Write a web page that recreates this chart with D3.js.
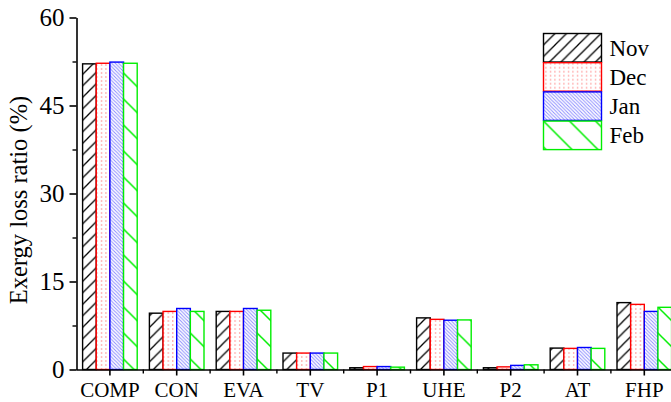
<!DOCTYPE html>
<html>
<head>
<meta charset="utf-8">
<script src="https://cdn.jsdelivr.net/npm/d3@7"></script>
<style>
body { margin: 0; background: #fff; }
svg { display: block; font-family: "Liberation Serif", "Times New Roman", serif; }
</style>
</head>
<body>
<svg width="671" height="402"></svg>
<script>
'use strict';

var categories = ['COMP', 'CON', 'EVA', 'TV', 'P1', 'UHE', 'P2', 'AT', 'FHP'];
var months = ['Nov', 'Dec', 'Jan', 'Feb'];
var nov = [52.1, 9.6, 9.9, 2.8, 0.3, 8.8, 0.3, 3.65, 11.4];
var dec = [52.2, 9.9, 9.9, 2.8, 0.5, 8.55, 0.45, 3.6, 11.1];
var jan = [52.4, 10.4, 10.4, 2.8, 0.5, 8.4, 0.7, 3.75, 9.9];
var feb = [52.2, 9.9, 10.1, 2.8, 0.4, 8.45, 0.8, 3.6, 10.6];
var yTicks = [0, 15, 30, 45, 60];
var yMinor = [7.5, 22.5, 37.5, 52.5];

var series = [nov, dec, jan, feb];
var colors = ['#000', '#ff0000', '#0000ff', '#00ee00'];

var svg = d3.select('svg');
var width = +svg.attr('width');

var x = d3.scaleBand().domain(categories).range([76.5, 76.5 + 9 * 66.8]);
var x1 = d3.scaleBand().domain(months).range([6.1, 60.7]);
var y = d3.scaleLinear().domain([0, 60]).range([369.5, 17.5]);

// hatch patterns
var defs = svg.append('defs');

var p = defs.append('pattern').attr('id', 'pNov').attr('patternUnits', 'userSpaceOnUse')
	.attr('width', 11.5).attr('height', 11.5);
p.append('rect').attr('width', 11.5).attr('height', 11.5).attr('fill', '#fff');
p.append('path').attr('d', 'M-1,12.5 L12.5,-1 M-3,3 L3,-3 M8.5,14.5 L14.5,8.5')
	.attr('stroke', '#000').attr('stroke-width', 1.3);

p = defs.append('pattern').attr('id', 'pDec').attr('patternUnits', 'userSpaceOnUse')
	.attr('width', 4.5).attr('height', 4);
p.append('rect').attr('width', 4.5).attr('height', 4).attr('fill', '#fff');
p.append('rect').attr('x', 2).attr('y', 0).attr('width', 1).attr('height', 2).attr('fill', '#ff9a9a');

p = defs.append('pattern').attr('id', 'pJan').attr('patternUnits', 'userSpaceOnUse')
	.attr('width', 3.5).attr('height', 3.5);
p.append('rect').attr('width', 3.5).attr('height', 3.5).attr('fill', '#fff');
p.append('path').attr('d', 'M-1,-1 L4.5,4.5 M-1,2.5 L1,4.5 M2.5,-1 L4.5,1')
	.attr('stroke', '#8a8aff').attr('stroke-width', 0.9);

p = defs.append('pattern').attr('id', 'pFeb').attr('patternUnits', 'userSpaceOnUse')
	.attr('width', 26).attr('height', 26);
p.append('rect').attr('width', 26).attr('height', 26).attr('fill', '#fff');
p.append('path').attr('d', 'M-1,-1 L27,27 M-3,23 L3,29 M23,-3 L29,3')
	.attr('stroke', '#00ee00').attr('stroke-width', 1.5);

var fills = ['url(#pNov)', 'url(#pDec)', 'url(#pJan)', 'url(#pFeb)'];

// bars
var groups = svg.selectAll('g.grp')
	.data(categories).enter()
	.append('g').attr('class', 'grp')
	.attr('transform', function(d){ return 'translate(' + x(d) + ',0)'; });

groups.selectAll('rect')
	.data(function(d, i){
		return months.map(function(m, j){ return {m: m, j: j, v: series[j][i]}; });
	})
	.enter().append('rect')
	.attr('x', function(d){ return x1(d.m); })
	.attr('width', x1.bandwidth())
	.attr('y', function(d){ return y(d.v); })
	.attr('height', function(d){ return y(0) - y(d.v); })
	.attr('fill', function(d){ return fills[d.j]; })
	.attr('stroke', function(d){ return colors[d.j]; })
	.attr('stroke-width', 1.4);

// axes
var yAxis = svg.append('g').attr('transform', 'translate(76.5,0)')
	.call(d3.axisLeft(y).tickValues(yTicks).tickSize(7).tickSizeOuter(0).tickPadding(5));
yAxis.selectAll('text').attr('font-size', 25).attr('font-family', 'Liberation Serif').attr('fill', '#000');
yAxis.select('.domain').attr('stroke-width', 1.6);
yAxis.selectAll('line').attr('stroke-width', 1.6);

svg.append('g').attr('transform', 'translate(76.5,0)')
	.call(d3.axisLeft(y).tickValues(yMinor).tickSize(4).tickFormat(''))
	.call(function(g){ g.select('.domain').remove(); })
	.selectAll('line').attr('stroke-width', 1.4);

var xAxis = svg.append('g').attr('transform', 'translate(0,' + y(0) + ')')
	.call(d3.axisBottom(x).tickSize(6).tickSizeOuter(0).tickPadding(7));
xAxis.select('.domain').attr('d', 'M76.5,0.5H' + width).attr('stroke-width', 1.6);
xAxis.selectAll('line').attr('stroke-width', 1.6);
xAxis.selectAll('text').attr('font-size', 21).attr('font-family', 'Liberation Serif').attr('fill', '#000');

svg.append('g').attr('transform', 'translate(0,' + y(0) + ')')
	.selectAll('line')
	.data(categories.slice(1))
	.enter().append('line')
	.attr('x1', function(d){ return x(d); })
	.attr('x2', function(d){ return x(d); })
	.attr('y1', 0).attr('y2', 4)
	.attr('stroke', '#000').attr('stroke-width', 1.4);

// y label
svg.append('text')
	.attr('transform', 'translate(27,200) rotate(-90)')
	.attr('text-anchor', 'middle')
	.attr('font-size', 24.5)
	.text('Exergy loss ratio (%)');

// legend
var legend = svg.append('g').attr('transform', 'translate(543.5,33.5)');
var item = legend.selectAll('g')
	.data(months).enter()
	.append('g')
	.attr('transform', function(d, i){ return 'translate(0,' + (i * 29.2) + ')'; });
item.append('rect')
	.attr('width', 58).attr('height', 28.5)
	.attr('fill', function(d, i){ return fills[i]; })
	.attr('stroke', function(d, i){ return colors[i]; })
	.attr('stroke-width', 1.4);
item.append('text')
	.attr('x', 66).attr('y', 22)
	.attr('font-size', 23)
	.text(function(d){ return d; });
</script>
</body>
</html>
